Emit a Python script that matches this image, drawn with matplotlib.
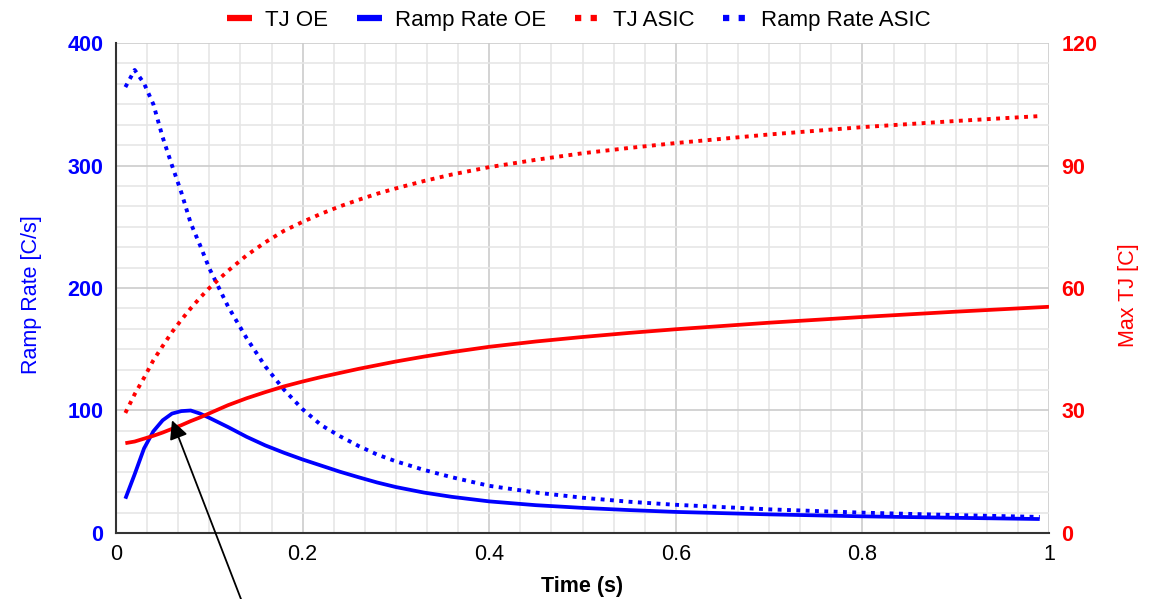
# Ramp rate y temperatura de juntura vs tiempo

import numpy as np
import matplotlib
matplotlib.use("Agg")
import matplotlib.pyplot as plt
from matplotlib.lines import Line2D
from matplotlib.ticker import MultipleLocator

plt.rcParams['font.family'] = ['Liberation Sans', 'DejaVu Sans']

# Datos
time = [0.01, 0.02, 0.03, 0.04, 0.05, 0.06, 0.07, 0.08, 0.09, 0.10,
        0.12, 0.14, 0.16, 0.18, 0.20, 0.22, 0.24, 0.26, 0.28, 0.30,
        0.33, 0.36, 0.40, 0.45, 0.50, 0.55, 0.60, 0.70, 0.80, 0.90, 0.99]
time_tj_oe = [0.01, 0.02, 0.03, 0.04, 0.05, 0.06, 0.07, 0.08, 0.09, 0.10,
              0.12, 0.14, 0.16, 0.18, 0.20, 0.22, 0.24, 0.26, 0.28, 0.30,
              0.33, 0.36, 0.40, 0.45, 0.50, 0.55, 0.60, 0.70, 0.80, 0.90, 1.00]

ramp_oe = [28, 48, 69, 83, 92, 97.5, 99.5, 100, 97.5, 94,
           86.5, 78.5, 71.5, 65.5, 60, 55, 50, 45.5, 41.2, 37.5,
           33, 29.5, 25.8, 22.7, 20.5, 18.7, 17.2, 15.2, 13.6, 12.4, 11.4]
ramp_asic = [364, 378, 367, 350, 323, 300, 278, 253, 235, 216,
             185, 159, 136, 117, 101, 88, 79, 71, 64, 58.5,
             51.5, 45.5, 38.5, 33, 28.8, 25.5, 23, 19.3, 16.6, 14.6, 13.1]
tj_oe = [22.0, 22.4, 23.1, 23.8, 24.6, 25.5, 26.4, 27.4, 28.3, 29.3,
         31.3, 33.0, 34.5, 35.9, 37.1, 38.2, 39.2, 40.2, 41.1, 42.0,
         43.2, 44.3, 45.6, 46.9, 48.0, 49.0, 49.9, 51.5, 52.9, 54.2, 55.4]
tj_asic = [29.4, 34, 38, 42.3, 45.8, 49.2, 52.2, 55, 57.6, 60,
           64.2, 68, 71.2, 74, 76.2, 78.2, 80, 81.6, 83.1, 84.4,
           86.2, 87.8, 89.6, 91.4, 93, 94.3, 95.5, 97.6, 99.4, 100.9, 102.1]

x_ticks = [0, 0.2, 0.4, 0.6, 0.8, 1]
x_tick_labels = ['0', '0.2', '0.4', '0.6', '0.8', '1']
left_ticks = [0, 100, 200, 300, 400]
right_ticks = [0, 30, 60, 90, 120]

RED = '#ff0000'
BLUE = '#0000ff'
FS = 15.5
dots = (0, (1.0, 1.4))

fig = plt.figure(figsize=(11.58, 5.99), dpi=100)
ax = fig.add_axes([0.1002, 0.1102, 0.8057, 0.8180])
ax2 = ax.twinx()

# Grilla
ax.set_xlim(0, 1)
ax.set_ylim(0, 400)
ax2.set_ylim(0, 120)
ax.xaxis.set_minor_locator(MultipleLocator(1 / 30))
ax.yaxis.set_minor_locator(MultipleLocator(100 / 6))
ax.grid(which='major', color='#cccccc', lw=1.2)
ax.grid(which='minor', color='#e6e6e6', lw=1.2)
ax.set_axisbelow(True)

# Curvas
ax.plot(time, ramp_oe, color=BLUE, lw=2.7, solid_capstyle='butt', solid_joinstyle='round')
ax.plot(time, ramp_asic, color=BLUE, lw=2.8, linestyle=dots, dash_capstyle='butt')
ax2.plot(time_tj_oe, tj_oe, color=RED, lw=2.7, solid_capstyle='butt', solid_joinstyle='round')
ax2.plot(time, tj_asic, color=RED, lw=2.8, linestyle=dots, dash_capstyle='butt')

# Ejes
ax.set_xticks(x_ticks)
ax.set_xticklabels(x_tick_labels, fontsize=FS)
ax.set_yticks(left_ticks)
ax.set_yticklabels([str(v) for v in left_ticks], fontsize=FS, fontweight='bold', color=BLUE)
ax2.set_yticks(right_ticks)
ax2.set_yticklabels([str(v) for v in right_ticks], fontsize=FS, fontweight='bold', color=RED)
ax.tick_params(which='both', length=0)
ax.tick_params(axis='y', pad=9)
ax.tick_params(axis='x', pad=8)
ax2.tick_params(which='both', length=0, pad=9)

ax.set_xlabel('Time (s)', fontsize=FS, fontweight='bold', labelpad=8)
ax.set_ylabel('Ramp Rate [C/s]', fontsize=FS, color=BLUE)
ax.yaxis.set_label_coords(-0.079, 0.486)
ax2.set_ylabel('Max TJ [C]', fontsize=FS, color=RED)
ax2.yaxis.set_label_coords(1.074, 0.486)

for a in (ax, ax2):
    a.spines['top'].set_visible(False)
    a.spines['right'].set_visible(False)
    a.spines['left'].set_color('#333333')
    a.spines['bottom'].set_color('#333333')
    a.spines['left'].set_linewidth(1.5)
    a.spines['bottom'].set_linewidth(1.5)
ax2.spines['left'].set_visible(False)
ax2.spines['bottom'].set_visible(False)

# Flecha
ax2.annotate('', xy=(0.060, 92 * 0.3), xytext=(0.138, -62 * 0.3),
             arrowprops=dict(arrowstyle='-|>', mutation_scale=28, lw=1.3, color='black',
                             shrinkA=0, shrinkB=0),
             annotation_clip=False)

# Leyenda
handles = [Line2D([], [], color=RED, lw=4.5, solid_capstyle='butt'),
           Line2D([], [], color=BLUE, lw=4.5, solid_capstyle='butt'),
           Line2D([], [], color=RED, lw=4.5, linestyle=(0, (1, 1.5)), dash_capstyle='butt'),
           Line2D([], [], color=BLUE, lw=4.5, linestyle=(0, (1, 1.5)), dash_capstyle='butt')]
labels = ['TJ OE', 'Ramp Rate OE', 'TJ ASIC', 'Ramp Rate ASIC']
fig.legend(handles, labels, loc='center', bbox_to_anchor=(0.5, 0.966), ncol=4,
           frameon=False, fontsize=16, handlelength=1.1, handletextpad=0.6,
           columnspacing=1.3)

fig.savefig('out.png', dpi=100)
